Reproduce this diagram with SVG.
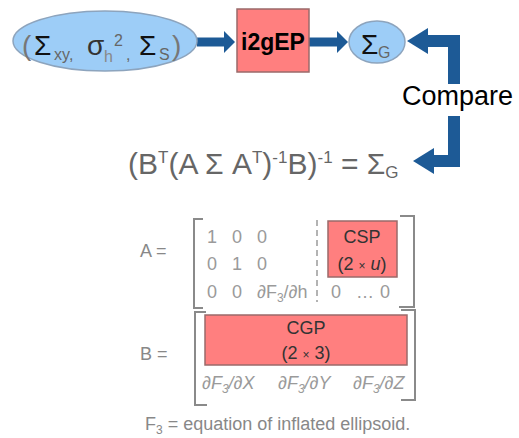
<svg xmlns="http://www.w3.org/2000/svg" width="519" height="438" viewBox="0 0 519 438">
<style>
text{font-family:"Liberation Sans",Arial,sans-serif}
.ell{fill:#9dcdf7;stroke:#8da4bd;stroke-width:1.5}
.red{fill:#ff7f7f;stroke:#9a6a6a;stroke-width:1.5}
.conn{fill:none;stroke:#1d5a96;stroke-linejoin:miter}
.br{fill:none;stroke:#8a8a8a;stroke-width:2}
.m{font-size:18px;fill:#9a9a9a}
.box{font-size:18px;fill:#333;text-anchor:middle}
.lbl{font-size:18px;fill:#888}
</style>
<defs>
<marker id="ahS" markerUnits="userSpaceOnUse" markerWidth="11" markerHeight="22" refX="0" refY="11" orient="auto"><path d="M0,0 L11,11 L0,22 z" fill="#1d5a96"/></marker>
<marker id="ahL" markerUnits="userSpaceOnUse" markerWidth="21" markerHeight="26" refX="0" refY="13" orient="auto"><path d="M0,0 L21,13 L0,26 z" fill="#1d5a96"/></marker>
</defs>

<g id="connectors">
<path class="conn" stroke-width="9" d="M197 42 H224" marker-end="url(#ahS)"/>
<path class="conn" stroke-width="9" d="M309 42 H337" marker-end="url(#ahS)"/>
<path class="conn" stroke-width="12" d="M454 84 V41 H428" marker-end="url(#ahL)"/>
<path class="conn" stroke-width="12" d="M454 116 V161 H434" marker-end="url(#ahL)"/>
</g>

<g id="input">
<ellipse class="ell" cx="105" cy="41" rx="92" ry="30"/>
<text font-size="28" fill="#777"><tspan x="22" y="55">(</tspan><tspan x="34" y="55" fill="#111">Σ</tspan><tspan x="54" y="60" font-size="16" fill="#666">xy</tspan><tspan x="69" y="60" font-size="16" fill="#666">,</tspan><tspan x="87" y="55" fill="#333">σ</tspan><tspan x="104" y="62" font-size="16" fill="#888">h</tspan><tspan x="114" y="46" font-size="16" fill="#666">2</tspan><tspan x="126" y="60" font-size="16" fill="#666">,</tspan><tspan x="139" y="55" fill="#111">Σ</tspan><tspan x="159" y="60" font-size="16" fill="#666">S</tspan><tspan x="172" y="55">)</tspan></text>
</g>

<g id="i2gEP">
<rect class="red" x="237" y="9" width="72" height="63"/>
<text x="273" y="50" font-size="23" font-weight="bold" fill="#000" text-anchor="middle">i2gEP</text>
</g>

<g id="sigmaG">
<ellipse class="ell" cx="377" cy="42" rx="28" ry="21"/>
<text font-size="28" fill="#111"><tspan x="361" y="54">Σ</tspan><tspan x="378" y="58" font-size="16" fill="#666">G</tspan></text>
</g>

<g id="compare">
<text x="402" y="105" font-size="27" fill="#000">Compare</text>
</g>

<g id="formula">
<text x="128" y="174" font-size="30" fill="#666">(B<tspan font-size="17" dy="-11">T</tspan><tspan dy="11">(A Σ A</tspan><tspan font-size="17" dy="-11">T</tspan><tspan dy="11">)</tspan><tspan font-size="17" dy="-11">-1</tspan><tspan dy="11">B)</tspan><tspan font-size="17" dy="-11">-1</tspan><tspan dy="11"> = Σ</tspan><tspan font-size="17" dy="4">G</tspan></text>
</g>

<g id="matrixA">
<text class="lbl" x="140" y="257">A =</text>
<path class="br" d="M203 219 H194 V308 H203"/>
<path class="br" d="M400 216 H414 V307 H399"/>
<text class="m"><tspan x="207" y="243">1</tspan><tspan x="232" y="243">0</tspan><tspan x="257" y="243">0</tspan></text>
<text class="m"><tspan x="207" y="270">0</tspan><tspan x="232" y="270">1</tspan><tspan x="257" y="270">0</tspan></text>
<text class="m"><tspan x="207" y="298">0</tspan><tspan x="232" y="298">0</tspan><tspan x="257" y="298">∂F</tspan><tspan font-size="12" dy="4">3</tspan><tspan dy="-4">/∂h</tspan></text>
<line x1="317" y1="220" x2="317" y2="302" stroke="#9a9a9a" stroke-width="1.5" stroke-dasharray="6,4"/>
<text class="m"><tspan x="331" y="298">0</tspan><tspan x="356" y="298">…</tspan><tspan x="380" y="298">0</tspan></text>
<rect class="red" x="328" y="221" width="69" height="56"/>
<text class="box" x="362" y="243">CSP</text>
<text class="box" x="362" y="270">(2 <tspan font-size="12">×</tspan> <tspan font-style="italic">u</tspan>)</text>
</g>

<g id="matrixB">
<text class="lbl" x="140" y="360">B =</text>
<path class="br" d="M206 312 H195 V405 H207"/>
<path class="br" d="M401 310 H415 V400 H401"/>
<rect class="red" x="205" y="315" width="202" height="50"/>
<text class="box" x="306" y="334">CGP</text>
<text class="box" x="306" y="359">(2 <tspan font-size="12">×</tspan> 3)</text>
<text class="m" font-style="italic"><tspan x="202" y="389">∂F</tspan><tspan font-size="12" dy="4">3</tspan><tspan dy="-4">/∂X</tspan><tspan x="278" y="389">∂F</tspan><tspan font-size="12" dy="4">3</tspan><tspan dy="-4">/∂Y</tspan><tspan x="353" y="389">∂F</tspan><tspan font-size="12" dy="4">3</tspan><tspan dy="-4">/∂Z</tspan></text>
</g>

<g id="footnote">
<text class="lbl" x="145" y="430">F<tspan font-size="12" dy="4">3</tspan><tspan dy="-4"> = equation of inflated ellipsoid.</tspan></text>
</g>
</svg>
